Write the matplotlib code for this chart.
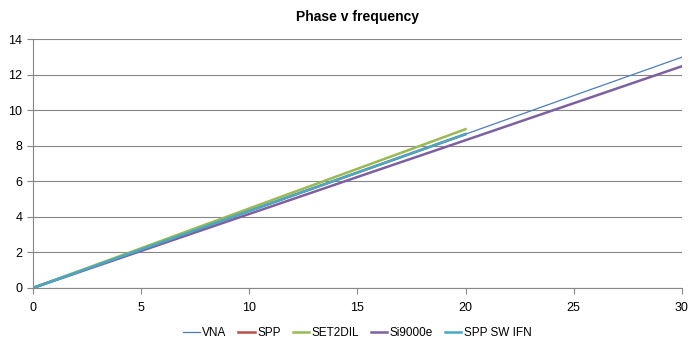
import matplotlib
matplotlib.use('Agg')
from matplotlib import pyplot as plt

# Données
freq_30 = [0, 5, 10, 15, 20, 25, 30]
freq_20 = [0, 5, 10, 15, 20]
vna = [0, 2.16, 4.33, 6.49, 8.65, 10.82, 12.98]
spp = [0, 2.16, 4.33, 6.49, 8.65]
set2dil = [0, 2.23, 4.47, 6.70, 8.93]
si9000e = [0, 2.08, 4.16, 6.24, 8.31, 10.39, 12.47]
spp_sw_ifn = [0, 2.16, 4.33, 6.49, 8.65]

plt.rcParams['font.family'] = ['Liberation Sans', 'DejaVu Sans']

fig = plt.figure(figsize=(7, 3.49), dpi=100)
ax = fig.add_axes([0.047, 0.175, 0.927, 0.713])

ax.plot(freq_30, vna, color='#4A7EBB', lw=0.9, label='VNA', zorder=5)
ax.plot(freq_20, spp, color='#BE4B48', lw=1.8, label='SPP', zorder=2)
ax.plot(freq_20, set2dil, color='#98B954', lw=1.8, label='SET2DIL', zorder=3)
ax.plot(freq_30, si9000e, color='#7D60A0', lw=1.8, label='Si9000e', zorder=4)
ax.plot(freq_20, spp_sw_ifn, color='#46AAC5', lw=1.8, label='SPP SW IFN', zorder=6)

ax.set_xlim(0, 30)
ax.set_ylim(0, 14)
ax.set_xticks(range(0, 31, 5))
ax.set_yticks(range(0, 15, 2))
ax.grid(axis='y', color='#868686', lw=0.8)
ax.set_axisbelow(True)
for s in ['top', 'right']:
    ax.spines[s].set_visible(False)
for s in ['left', 'bottom']:
    ax.spines[s].set_color('#868686')
ax.tick_params(colors='#868686', labelcolor='black', labelsize=9, length=4)
ax.tick_params(axis='x', pad=6)

ax.set_title('Phase v frequency', fontsize=10, fontweight='bold', pad=13)

ax.legend(loc='upper center', bbox_to_anchor=(0.5, -0.115), ncol=5, frameon=False,
          fontsize=8.5, handlelength=1.4, handletextpad=0.2, columnspacing=1.0)

fig.savefig('out.png', dpi=100)
